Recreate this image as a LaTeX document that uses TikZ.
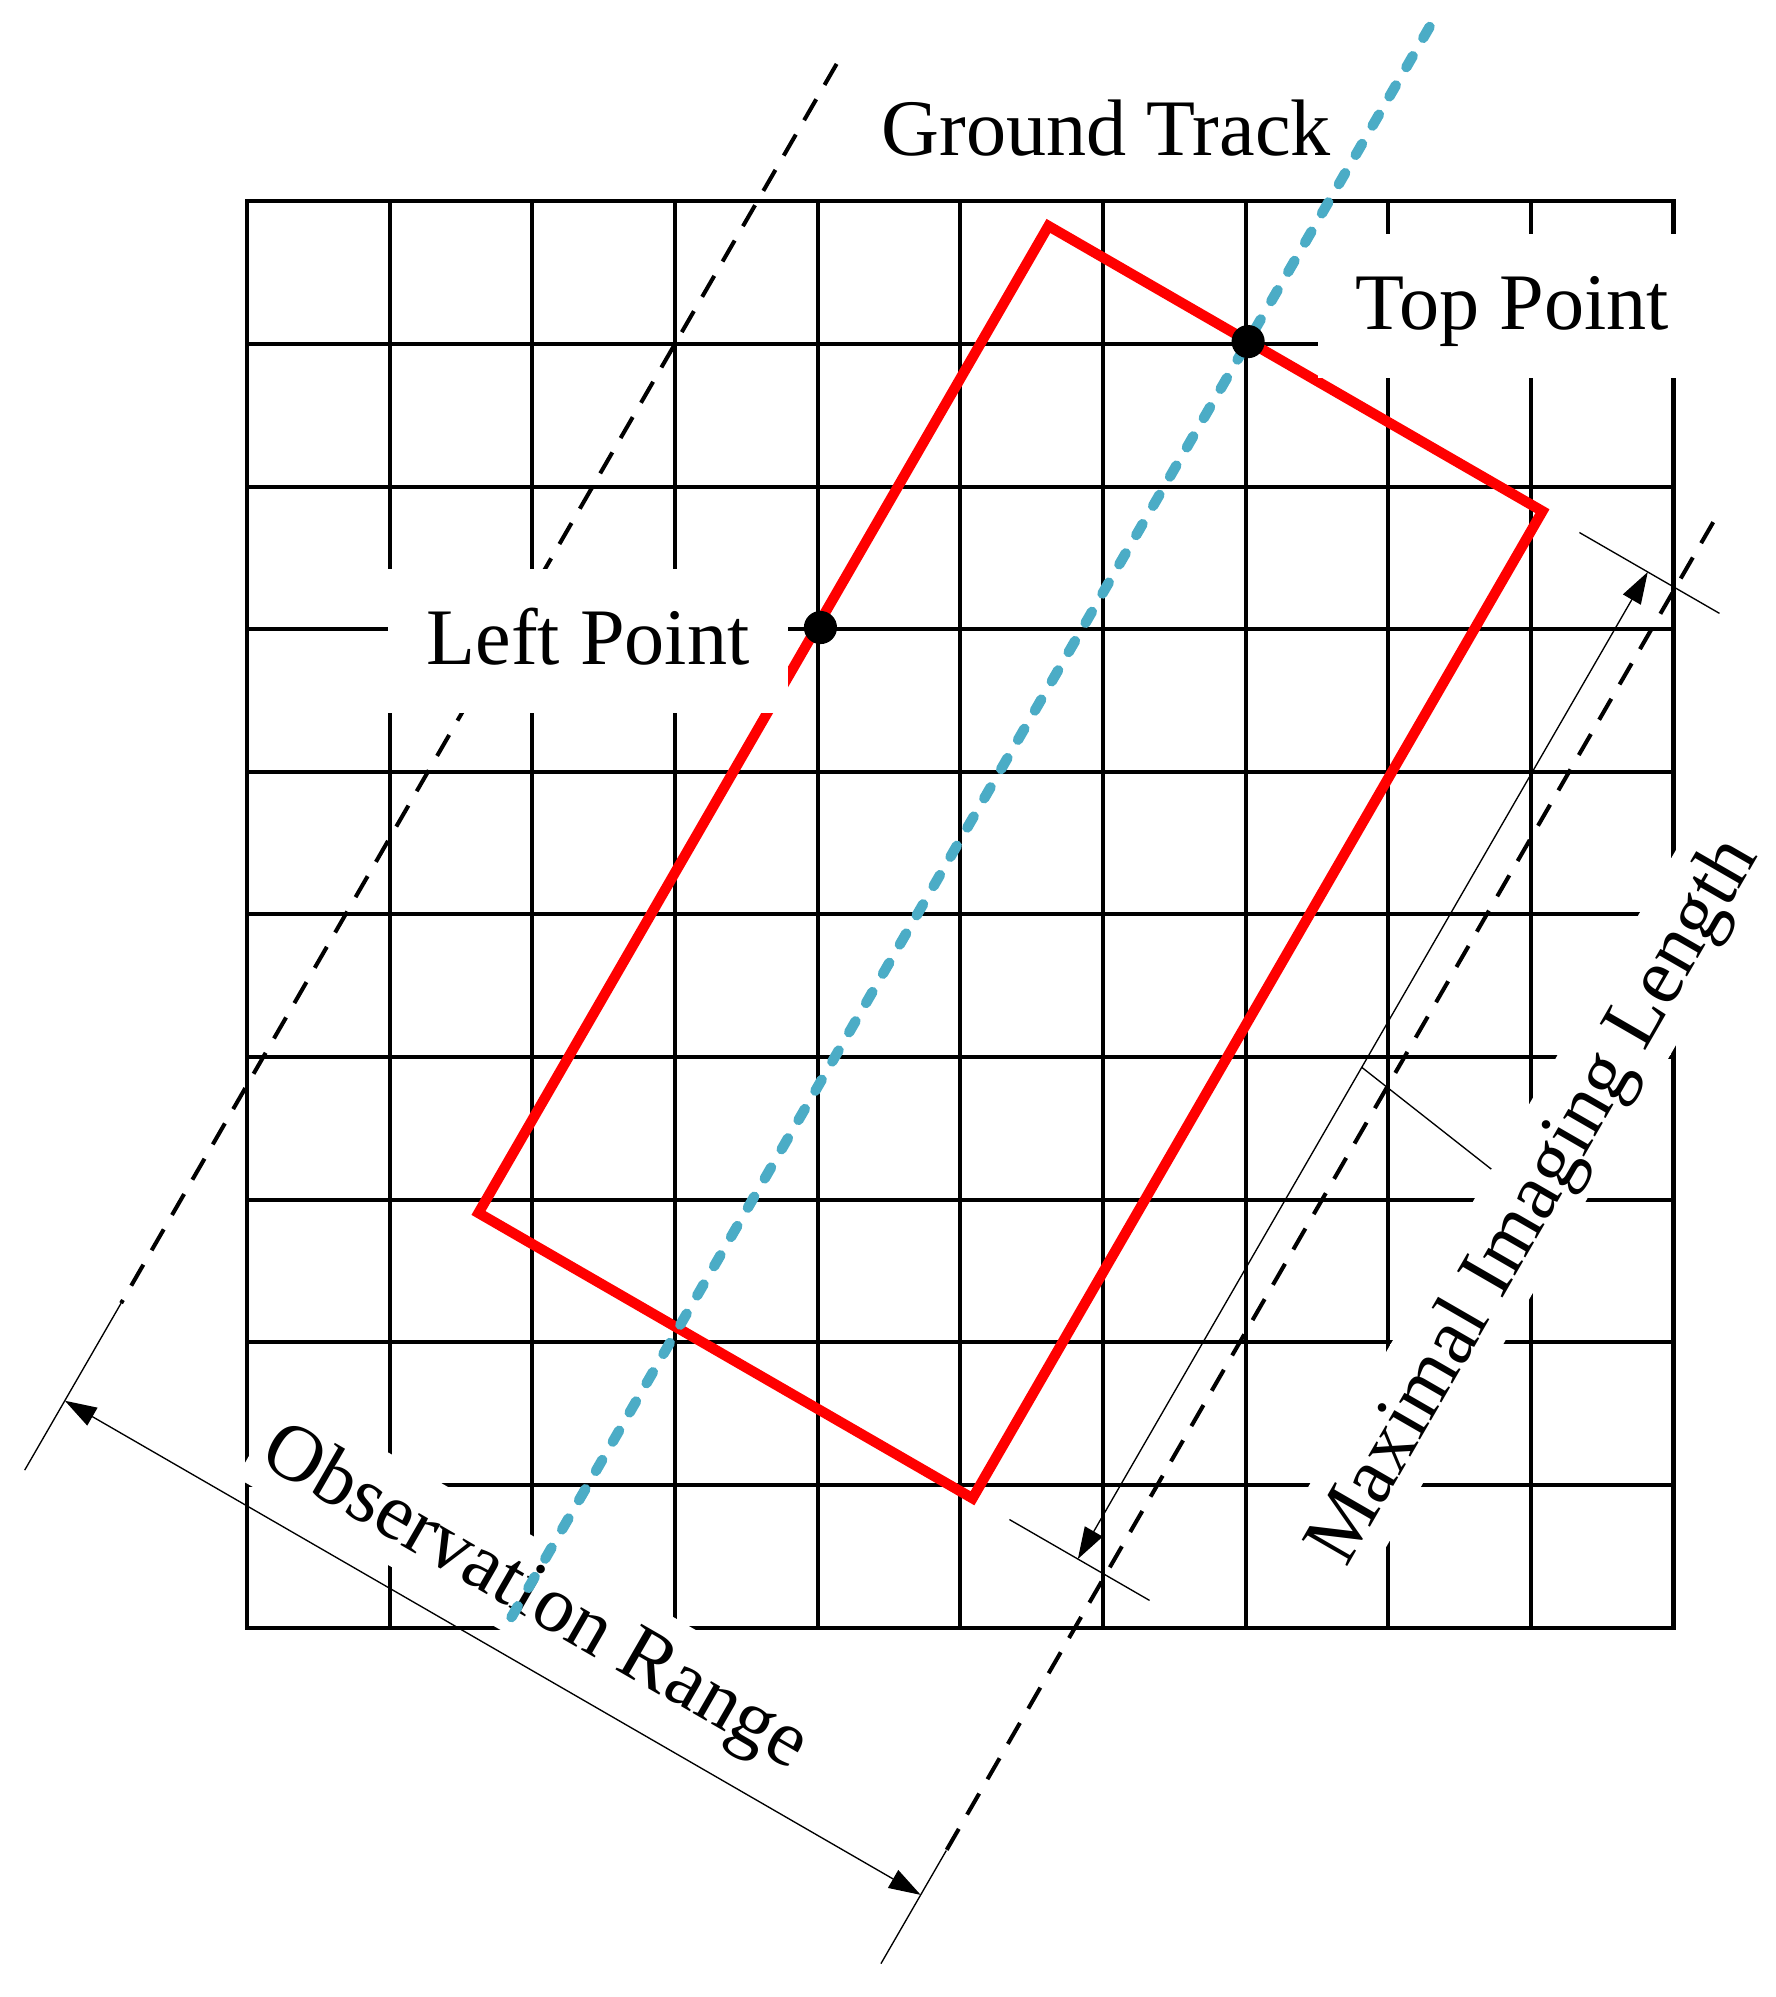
\documentclass[tikz,border=0pt]{standalone}
\usepackage{fontspec}
\setmainfont{Liberation Serif}
\usetikzlibrary{arrows.meta,calc}
\definecolor{trackblue}{RGB}{75,172,198}
\begin{document}
\begin{tikzpicture}[x=0.01cm,y=-0.01cm,
  gridline/.style={line width=0.9pt, black},
  footprint/.style={draw=red, line width=2.3pt, line join=miter},
  edgeline/.style={line width=0.9pt, dash pattern=on 0.19cm off 0.13cm},
  thinline/.style={line width=0.3pt},
  dimarrow/.style={thinline, {Triangle[length=0.25cm,width=0.16cm]}-{Triangle[length=0.25cm,width=0.16cm]}},
  track/.style={draw=trackblue, line width=2.3pt, line cap=round, dash pattern=on 0.1cm off 0.165cm},
  lbl/.style={font=\fontsize{17.9pt}{20pt}\selectfont, inner sep=0pt},
  flatlabel/.style={lbl, fill=white, anchor=base, text height=0.754cm, text depth=0.376cm, inner xsep=0.3cm},
  dimlabel/.style={lbl, fill=white, anchor=base, text height=0.58cm, text depth=0.185cm, inner xsep=0.08cm},
  pt/.style={circle, fill=black, inner sep=0pt, minimum size=0.26cm}
]
\useasboundingbox (0,0) rectangle (1394,1568);

% grid
\draw[gridline] (194,158) rectangle (1314,1278);
\foreach \i in {1,...,9} {
  \draw[gridline] ({194+112*\i},158) -- ({194+112*\i},1278);
  \draw[gridline] (194,{158+112*\i}) -- (1314,{158+112*\i});
}

% imaging footprint
\coordinate (RT) at (823.2,177.4);
\coordinate (RR) at (1211.1,401.35);
\coordinate (RB) at (763.6,1176.4);
\coordinate (RL) at (375.7,952.4);
\draw[footprint] (RT) -- (RR) -- (RB) -- (RL) -- cycle;

% observation range boundaries
\coordinate (LT) at (656.9,50.2);
\coordinate (LM) at (95.1,1023.2);
\coordinate (LE) at (19.4,1154.3);
\coordinate (RTp) at (1345.2,410);
\coordinate (RM) at (743,1453);
\coordinate (RE) at (691.7,1541.8);
\draw[edgeline] (LT) -- (LM);
\draw[thinline] (LM) -- (LE);
\draw[edgeline] (RTp) -- (RM);
\draw[thinline] (RM) -- (RE);

% observation range dimension
\coordinate (OA) at (50.9,1099.8);
\coordinate (OB) at (722.9,1487.8);
\draw[dimarrow] (OA) -- (OB);

% maximal imaging length dimension
\coordinate (E1a) at (1240.1,418.1);
\coordinate (E1b) at (1350.1,481.6);
\coordinate (E2a) at (792.6,1193.1);
\coordinate (E2b) at (902.6,1256.6);
\draw[thinline] (E1a) -- (E1b);
\draw[thinline] (E2a) -- (E2b);
\coordinate (MA) at (1293.8,449.1);
\coordinate (MB) at (846.3,1224.1);
\draw[dimarrow] (MA) -- (MB);
\coordinate (LD1) at (1069.2,838);
\coordinate (LD2) at (1171,918);
\draw[thinline] (LD1) -- (LD2);

% labels
\node[flatlabel] (leftlbl) at (461.8,522) {Left Point};
\node[flatlabel] (toplbl) at (1187.5,259) {Top Point};
\node[lbl, anchor=base] (gtlbl) at (868.5,122.4) {Ground Track};
\node[dimlabel, rotate=-30] (orlbl) at (411.6,1269.1) {Observation Range};
\node[dimlabel, rotate=60] (mil) at (1218.75,951.8) {Maximal Imaging Length};

% ground track
\coordinate (GT1) at (1122.5,21.1);
\coordinate (GT2) at (395.5,1280.3);
\draw[track] (GT1) -- (GT2);

% points
\node[pt] (toppt) at (980,268.2) {};
\node[pt] (leftpt) at (644.2,492.7) {};
\end{tikzpicture}
\end{document}
